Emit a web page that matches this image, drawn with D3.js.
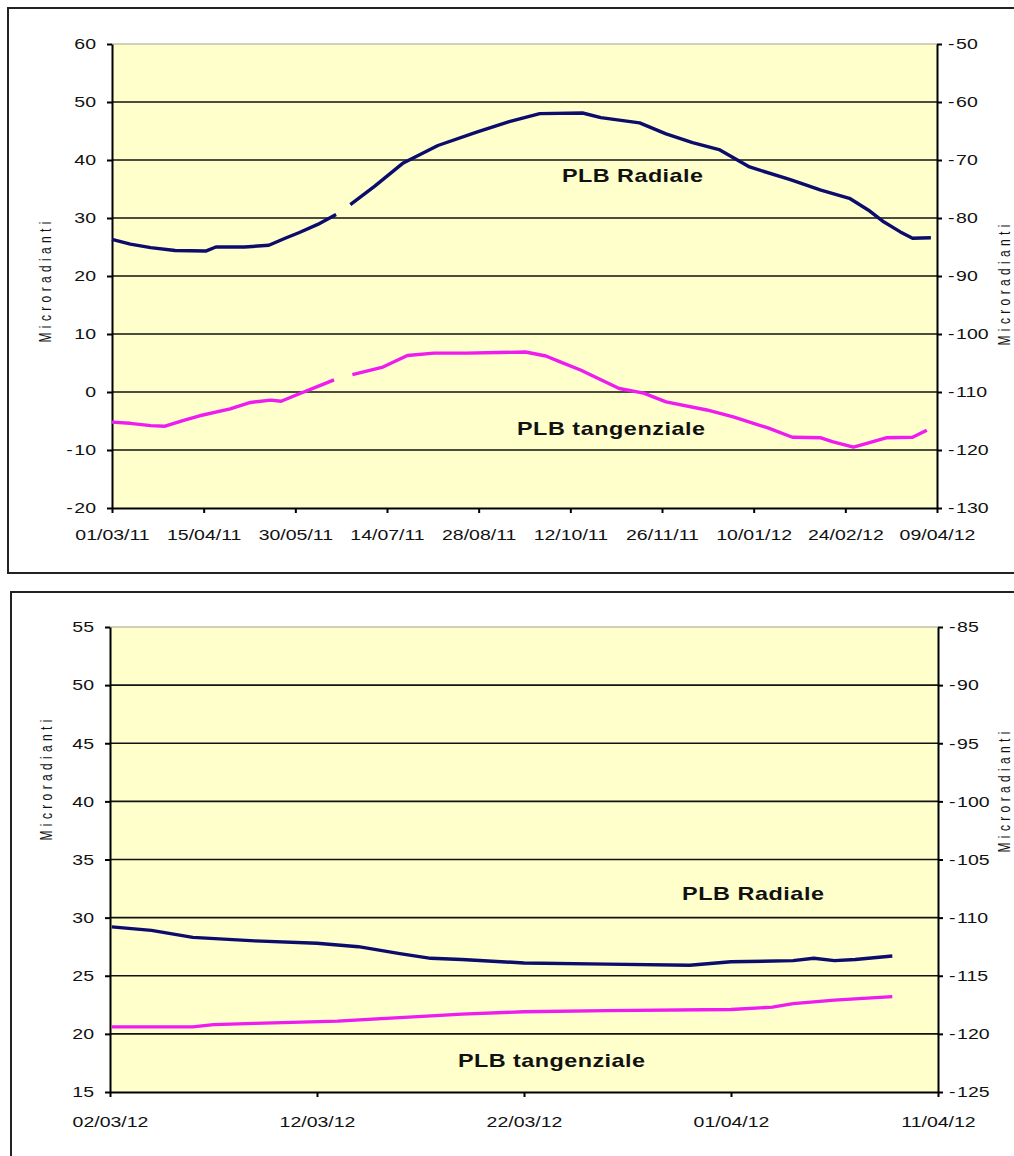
<!DOCTYPE html>
<html><head><meta charset="utf-8">
<script src="https://cdn.jsdelivr.net/npm/d3@7"></script>
<style>body{margin:0;background:#fff;overflow:hidden}</style>
</head><body>
<script>
// ---------- DATA ----------
// Top chart (01/03/11 - 09/04/12)
const topXTicks = ["01/03/11","15/04/11","30/05/11","14/07/11","28/08/11","12/10/11","26/11/11","10/01/12","24/02/12","09/04/12"];
const topLeftTicks = [-20,-10,0,10,20,30,40,50,60];
const topRightTicks = [-130,-120,-110,-100,-90,-80,-70,-60,-50];

const topRadDates = ["2011-03-01","2011-03-10","2011-03-20","2011-04-01","2011-04-16","2011-04-21","2011-05-05","2011-05-17","2011-05-25","2011-06-01","2011-06-10","2011-06-19","2011-06-22","2011-06-26","2011-07-08","2011-07-22","2011-08-08","2011-08-27","2011-09-12","2011-09-27","2011-10-18","2011-10-27","2011-11-15","2011-11-28","2011-12-11","2011-12-24","2012-01-08","2012-01-28","2012-02-12","2012-02-26","2012-03-07","2012-03-14","2012-03-22","2012-03-28","2012-04-06"];
const topRadVals  = [26.3,25.5,24.9,24.4,24.3,25.0,25.0,25.3,26.5,27.5,28.9,30.6,null,32.3,35.5,39.5,42.5,44.8,46.6,48.0,48.1,47.3,46.4,44.5,43.0,41.8,38.8,36.6,34.8,33.4,31.2,29.3,27.6,26.5,26.6];

const topTanDates = ["2011-03-01","2011-03-10","2011-03-20","2011-03-27","2011-04-06","2011-04-13","2011-04-28","2011-05-08","2011-05-18","2011-05-23","2011-06-01","2011-06-11","2011-06-18","2011-06-22","2011-06-27","2011-07-12","2011-07-24","2011-08-06","2011-08-22","2011-09-07","2011-09-20","2011-09-30","2011-10-07","2011-10-17","2011-10-27","2011-11-05","2011-11-17","2011-11-28","2011-12-18","2011-12-31","2012-01-17","2012-01-29","2012-02-12","2012-02-18","2012-02-28","2012-03-06","2012-03-15","2012-03-28","2012-04-04"];
const topTanVals  = [-115.2,-115.4,-115.8,-115.9,-114.8,-114.1,-112.9,-111.8,-111.4,-111.6,-110.3,-108.9,-107.9,null,-107.0,-105.7,-103.7,-103.3,-103.3,-103.2,-103.1,-103.8,-104.8,-106.2,-107.9,-109.4,-110.2,-111.7,-113.1,-114.3,-116.2,-117.8,-117.9,-118.6,-119.5,-118.8,-117.9,-117.8,-116.6];

// Bottom chart (02/03/12 - 11/04/12)
const botXTicks = ["02/03/12","12/03/12","22/03/12","01/04/12","11/04/12"];
const botLeftTicks = [15,20,25,30,35,40,45,50,55];
const botRightTicks = [-125,-120,-115,-110,-105,-100,-95,-90,-85];

const botRadDates = ["2012-03-02T02:00","2012-03-04","2012-03-06","2012-03-09","2012-03-12","2012-03-14","2012-03-16","2012-03-17T12:00","2012-03-19","2012-03-22","2012-03-26","2012-03-30","2012-04-01","2012-04-04","2012-04-05","2012-04-06","2012-04-07","2012-04-08T19:00"];
const botRadVals  = [29.2,28.9,28.3,28.0,27.8,27.5,26.9,26.5,26.4,26.1,26.0,25.9,26.2,26.3,26.5,26.3,26.4,26.7];

const botTanDates = ["2012-03-02T02:00","2012-03-06","2012-03-07","2012-03-09","2012-03-13","2012-03-16","2012-03-19","2012-03-22","2012-03-26","2012-04-01","2012-04-03","2012-04-04","2012-04-06","2012-04-08T19:00"];
const botTanVals  = [-119.4,-119.4,-119.2,-119.1,-118.9,-118.6,-118.3,-118.1,-118.0,-117.9,-117.7,-117.4,-117.1,-116.8];

const seriesNames = ["PLB Radiale","PLB tangenziale"];
const axisTitle = "Microradianti";

// ---------- DRAW ----------
const W = 1014, H = 1156;
const SX = 1.3; // horizontal glyph stretch of the original picture
const svg = d3.select("body").append("svg").attr("width",W).attr("height",H)
  .style("font-family","Arial, 'Liberation Sans', sans-serif");

const parseTick = d3.timeParse("%d/%m/%y");
const fmtTick = d3.timeFormat("%d/%m/%y");
const fmtNum = d => d < 0 ? "-\u200A" + Math.abs(d) : String(d);

function drawChart(cfg){
  const g = svg.append("g");
  g.append("rect").attr("x",cfg.frame[0]).attr("y",cfg.frame[1])
   .attr("width",cfg.frame[2]).attr("height",cfg.frame[3])
   .attr("fill","#fff").attr("stroke","#222").attr("stroke-width",2);

  const [L,T,R,B] = cfg.plot;
  const xTickDates = cfg.xTicks.map(parseTick);
  const x = d3.scaleTime().domain([xTickDates[0], xTickDates[xTickDates.length-1]]).range([L,R]);
  const yL = d3.scaleLinear().domain(d3.extent(cfg.leftTicks)).range([B,T]);
  const yR = d3.scaleLinear().domain(d3.extent(cfg.rightTicks)).range([B,T]);

  g.append("rect").attr("x",L).attr("y",T).attr("width",R-L).attr("height",B-T).attr("fill","#ffffcc");
  g.append("line").attr("x1",L).attr("x2",R).attr("y1",T).attr("y2",T).attr("stroke","#a0a088").attr("stroke-width",1);
  g.append("g").selectAll("line").data(cfg.leftTicks.slice(1,-1)).join("line")
   .attr("x1",L).attr("x2",R).attr("y1",d=>yL(d)).attr("y2",d=>yL(d))
   .attr("stroke","#111").attr("stroke-width",1.6);

  const styleAxis = (sel)=>{
    sel.selectAll("path,line").attr("stroke","#000").attr("stroke-width",2);
    sel.selectAll("text").attr("fill","#111").style("font-size","15px");
  };

  const ax = g.append("g").attr("transform",`translate(0,${B})`)
    .call(d3.axisBottom(x).tickValues(xTickDates).tickFormat(fmtTick).tickSize(5).tickSizeOuter(0).tickPadding(cfg.xPad));
  styleAxis(ax);
  ax.selectAll("text").attr("transform",`scale(${SX},1)`);

  const al = g.append("g").attr("transform",`translate(${L},0)`)
    .call(d3.axisLeft(yL).tickValues(cfg.leftTicks).tickFormat(fmtNum).tickSize(5).tickSizeOuter(0).tickPadding(8));
  styleAxis(al);
  al.selectAll("text").attr("x",-16/SX).attr("transform",`scale(${SX},1)`);

  const ar = g.append("g").attr("transform",`translate(${R},0)`)
    .call(d3.axisRight(yR).tickValues(cfg.rightTicks).tickFormat(fmtNum).tickSize(5).tickSizeOuter(0).tickPadding(8));
  styleAxis(ar);
  ar.selectAll("text").attr("x",11/SX).attr("transform",`scale(${SX},1)`);

  const radData = cfg.radDates.map((d,i)=>({t:d3.isoParse(d),v:cfg.radVals[i]}));
  const tanData = cfg.tanDates.map((d,i)=>({t:d3.isoParse(d),v:cfg.tanVals[i]}));
  const lineL = d3.line().defined(d=>d.v!==null).x(d=>x(d.t)).y(d=>yL(d.v));
  const lineR = d3.line().defined(d=>d.v!==null).x(d=>x(d.t)).y(d=>yR(d.v));
  g.append("path").datum(tanData).attr("d",lineR).attr("fill","none")
   .attr("stroke","#ee1cee").attr("stroke-width",3.4).attr("stroke-linejoin","round");
  g.append("path").datum(radData).attr("d",lineL).attr("fill","none")
   .attr("stroke","#0c0c6c").attr("stroke-width",3.4).attr("stroke-linejoin","round");

  cfg.labels.forEach((lb,i)=>{
    g.append("text").attr("transform",`translate(${lb[0]},${lb[1]}) scale(${SX},1)`)
     .attr("textLength",lb[2]/SX).attr("lengthAdjust","spacing")
     .text(seriesNames[i])
     .style("font-size","18px").style("font-weight","bold").attr("fill","#111");
  });

  cfg.titles.forEach(tt=>{
    g.append("text").attr("transform",`translate(${tt[0]},${tt[1]}) rotate(-90) scale(1,${SX})`)
     .attr("text-anchor","middle").attr("dy","0.35em").text(axisTitle)
     .attr("textLength",121).attr("lengthAdjust","spacing")
     .style("font-size","12px").attr("fill","#111");
  });
}

drawChart({
  frame:[8,8,1030,565], plot:[112,44,937,508], xPad:16,
  xTicks:topXTicks, leftTicks:topLeftTicks, rightTicks:topRightTicks,
  radDates:topRadDates, radVals:topRadVals, tanDates:topTanDates, tanVals:topTanVals,
  labels:[[562,182,141],[517,435,188]],
  titles:[[46,282],[1005,285]]
});
drawChart({
  frame:[11,592,1030,600], plot:[110,627,938,1092], xPad:19,
  xTicks:botXTicks, leftTicks:botLeftTicks, rightTicks:botRightTicks,
  radDates:botRadDates, radVals:botRadVals, tanDates:botTanDates, tanVals:botTanVals,
  labels:[[682,900,142],[458,1067,187]],
  titles:[[47,780],[1005,792]]
});
</script>
</body></html>
